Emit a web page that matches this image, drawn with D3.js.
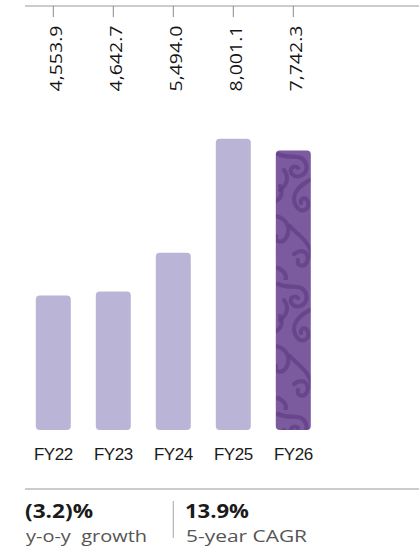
<!DOCTYPE html>
<html>
<head>
<meta charset="utf-8">
<script src="https://cdn.jsdelivr.net/npm/d3@7"></script>
<style>
  html, body { margin: 0; padding: 0; background: #ffffff; }
  svg { display: block; }
</style>
</head>
<body>
<svg id="chart" width="419" height="550"></svg>
<script>
const categories = ["FY22", "FY23", "FY24", "FY25", "FY26"];
const values = [4553.9, 4642.7, 5494.0, 8001.1, 7742.3];
const valueLabels = ["4,553.9", "4,642.7", "5,494.0", "8,001.1", "7,742.3"];
const highlight = "FY26";
const growthValue = "(3.2)%";
const growthLabel = "y-o-y  growth";
const cagrValue = "13.9%";
const cagrLabel = "5-year CAGR";

const svg = d3.select("#chart");

// Pattern for highlighted bar
const defs = svg.append("defs");
const pat = defs.append("pattern")
  .attr("id", "swirl")
  .attr("patternUnits", "userSpaceOnUse")
  .attr("width", 36).attr("height", 130)
  .attr("x", 276).attr("y", 150);
pat.append("rect").attr("width", 36).attr("height", 130).attr("fill", "#7b5a9e");
const swirlPaths = [
  "M2,4 C14,10 26,2 30,14 C33,24 22,30 16,24 C12,19 18,14 22,18",
  "M34,30 C22,36 14,46 20,56 C25,64 34,60 32,52 C30,46 24,48 25,53",
  "M0,66 C10,68 16,78 10,88 C6,94 -2,92 0,86",
  "M14,76 C22,86 34,90 36,108",
  "M4,36 C8,44 4,50 -2,52",
  "M18,104 C26,98 34,102 31,112 C28,118 20,116 22,110",
  "M8,20 C14,28 10,36 4,40",
  "M2,118 C10,122 12,128 8,132"
];
swirlPaths.forEach(d => pat.append("path").attr("d", d)
  .attr("fill", "none").attr("stroke", "#613f87").attr("stroke-width", 4.2)
  .attr("stroke-linecap", "round").attr("opacity", 0.72));

const x = d3.scalePoint().domain(categories).range([53.3, 293.3]);
const barWidth = 35;
const y = d3.scaleLinear().domain([1600, 8000]).range([430, 138.7]);

// Top axis line
svg.append("line")
  .attr("x1", 25).attr("x2", 419).attr("y1", 6).attr("y2", 6)
  .attr("stroke", "#9a9a9a").attr("stroke-width", 1.2);

// Ticks and rotated value labels
const topG = svg.append("g");
categories.forEach((c, i) => {
  topG.append("line")
    .attr("x1", x(c)).attr("x2", x(c)).attr("y1", 6).attr("y2", 17)
    .attr("stroke", "#8a8a8a").attr("stroke-width", 1);
  topG.append("text")
    .attr("transform", `translate(${x(c) + 8.5},25.5) rotate(-90)`)
    .attr("text-anchor", "end")
    .attr("font-family", "'Open Sans', sans-serif")
    .attr("font-size", 15.5)
    .attr("textLength", 66)
    .attr("lengthAdjust", "spacingAndGlyphs")
    .attr("fill", "#151515")
    .text(valueLabels[i]);
});

// Bars
svg.append("g").selectAll("rect")
  .data(categories)
  .join("rect")
  .attr("x", d => x(d) - barWidth / 2)
  .attr("width", barWidth)
  .attr("y", (d, i) => y(values[i]))
  .attr("height", (d, i) => y.range()[0] - y(values[i]))
  .attr("rx", 4).attr("ry", 4)
  .attr("fill", d => d === highlight ? "url(#swirl)" : "#bab5d6");

// Category labels
svg.append("g").selectAll("text")
  .data(categories)
  .join("text")
  .attr("x", d => x(d))
  .attr("y", 460)
  .attr("text-anchor", "middle")
  .attr("font-family", "'Liberation Sans', Arial, sans-serif")
  .attr("font-size", 17)
  .attr("letter-spacing", -0.5)
  .attr("fill", "#1a1a1a")
  .text(d => d);

// Separator line
svg.append("line")
  .attr("x1", 25).attr("x2", 419).attr("y1", 489).attr("y2", 489)
  .attr("stroke", "#9a9a9a").attr("stroke-width", 1.2);

// Divider
svg.append("line")
  .attr("x1", 173.3).attr("x2", 173.3).attr("y1", 501).attr("y2", 538)
  .attr("stroke", "#b5b5b5").attr("stroke-width", 1.2);

// Stats
const stats = [
  { x: 25, v: growthValue, vw: 68, l: growthLabel, lw: 121 },
  { x: 185, v: cagrValue, vw: 64, l: cagrLabel, lw: 121 }
];
stats.forEach(s => {
  svg.append("text")
    .attr("x", s.x).attr("y", 518)
    .attr("font-family", "'Open Sans', sans-serif")
    .attr("font-weight", 700)
    .attr("font-size", 19)
    .attr("textLength", s.vw)
    .attr("lengthAdjust", "spacingAndGlyphs")
    .attr("fill", "#1a1a1a")
    .text(s.v);
  svg.append("text")
    .attr("x", s.x + 1).attr("y", 542)
    .attr("font-family", "'Open Sans', sans-serif")
    .attr("font-size", 17)
    .attr("textLength", s.lw)
    .attr("lengthAdjust", "spacingAndGlyphs")
    .attr("fill", "#555")
    .style("white-space", "pre")
    .text(s.l);
});
</script>
</body>
</html>
